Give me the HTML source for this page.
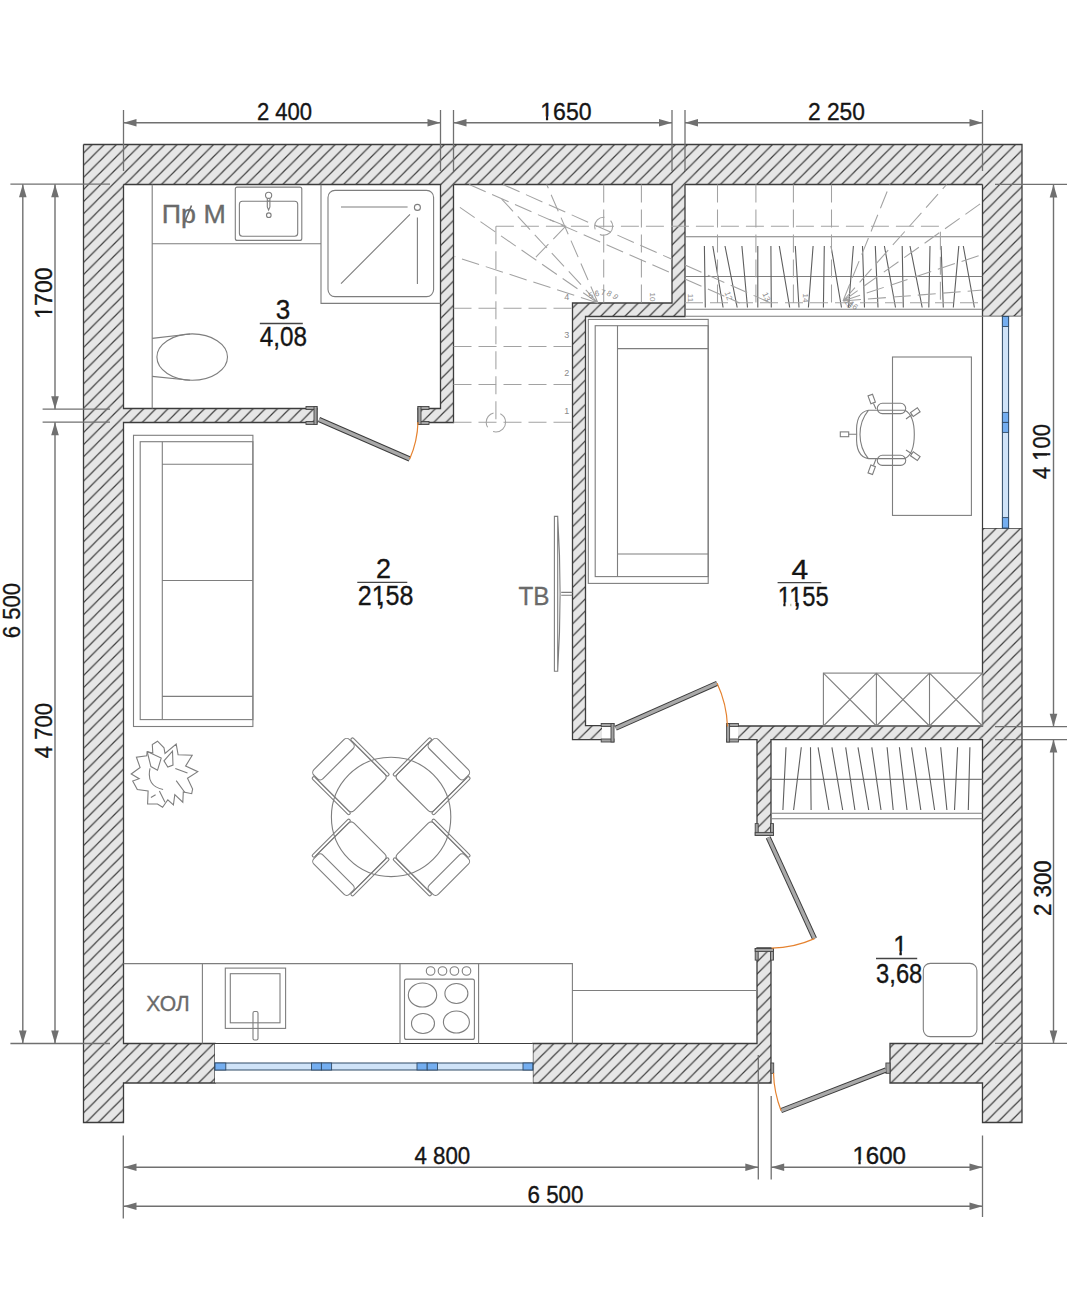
<!DOCTYPE html>
<html><head><meta charset="utf-8"><style>
html,body{margin:0;padding:0;background:#fff;width:1067px;height:1300px;overflow:hidden}
svg{display:block}
text{font-family:"Liberation Sans",sans-serif}
</style></head><body>
<svg width="1067" height="1300" viewBox="0 0 1067 1300">
<defs>
<pattern id="h" patternUnits="userSpaceOnUse" width="12.15" height="12.15">
<rect width="12.15" height="12.15" fill="#e6e6e6"/>
<path d="M-2,7.68L7.68,-2 M3.68,14.15L14.15,3.68" stroke="#3d3d3d" stroke-width="1.25"/>
</pattern>
</defs>
<rect width="1067" height="1300" fill="#fff"/>
<rect x="83.5" y="144.5" width="938.5" height="40.0" fill="url(#h)"/>
<rect x="83.5" y="144.5" width="40.0" height="978.0" fill="url(#h)"/>
<rect x="982.5" y="144.5" width="39.5" height="172.0" fill="url(#h)"/>
<rect x="982.5" y="528" width="39.5" height="594.5" fill="url(#h)"/>
<rect x="110" y="408.5" width="207.0" height="14.0" fill="url(#h)"/>
<rect x="418" y="408.5" width="35.5" height="14.0" fill="url(#h)"/>
<rect x="440.5" y="170" width="13.0" height="252.5" fill="url(#h)"/>
<rect x="672" y="170" width="13.0" height="146.5" fill="url(#h)"/>
<rect x="572.5" y="303" width="112.5" height="13.5" fill="url(#h)"/>
<rect x="572.5" y="303" width="13.0" height="436.6" fill="url(#h)"/>
<rect x="572.5" y="725.6" width="29.5" height="14.0" fill="url(#h)"/>
<rect x="738" y="726" width="257.0" height="13.6" fill="url(#h)"/>
<rect x="757" y="726" width="14.0" height="109.0" fill="url(#h)"/>
<rect x="757" y="948" width="14.0" height="135.0" fill="url(#h)"/>
<rect x="110" y="1043.5" width="105.0" height="39.5" fill="url(#h)"/>
<rect x="532.8" y="1043.5" width="238.2" height="39.5" fill="url(#h)"/>
<rect x="890" y="1043.5" width="105.0" height="39.5" fill="url(#h)"/>
<path d="M83.5,144.5H1022V316.5 M1022,528V1122.5H982.5V1083H890V1043.5H982.5V739.6H771V835H757V739.6H738 M982.5,316.5H1022 M982.5,528H1022 M982.5,184.5V316.5 M982.5,528V726H738 M123.5,184.5H440.5V408.5H418V422.5H453.5V184.5 M453.5,184.5H672V303H572.5V739.6H602 M685,184.5V316.5H585.5V725.6H602 M685,184.5H982.5 M83.5,144.5V1122.5H123.5V1083H215V1043.5H123.5V422.5H317V408.5H123.5V184.5 M532.8,1083H771V948H757V1043.5H532.8V1083 M215,1043.5V1083" fill="none" stroke="#3c3c3c" stroke-width="1.3"/>
<rect x="215" y="1043.5" width="317.79999999999995" height="39.5" fill="#fff"/>
<path d="M215,1043.5H532.8M215,1083H532.8" stroke="#3c3c3c" stroke-width="1.2"/>
<rect x="215" y="1063" width="317.79999999999995" height="7" fill="#cfe3f8" stroke="#2f4a66" stroke-width="1"/>
<rect x="215" y="1063" width="10.800000000000011" height="7" fill="#74aef0" stroke="#2f4a66" stroke-width="0.9"/>
<rect x="311.5" y="1063" width="9.899999999999977" height="7" fill="#74aef0" stroke="#2f4a66" stroke-width="0.9"/>
<rect x="321.4" y="1063" width="10.200000000000045" height="7" fill="#74aef0" stroke="#2f4a66" stroke-width="0.9"/>
<rect x="417" y="1063" width="10.199999999999989" height="7" fill="#74aef0" stroke="#2f4a66" stroke-width="0.9"/>
<rect x="427.2" y="1063" width="10.300000000000011" height="7" fill="#74aef0" stroke="#2f4a66" stroke-width="0.9"/>
<rect x="523" y="1063" width="9.799999999999955" height="7" fill="#74aef0" stroke="#2f4a66" stroke-width="0.9"/>
<rect x="982.5" y="316.5" width="39.5" height="211.5" fill="#fff"/>
<path d="M982.5,316.5V528M1022,316.5V528" stroke="#3c3c3c" stroke-width="1.2"/>
<rect x="1002.4" y="316.5" width="6.2" height="211.5" fill="#cfe3f8" stroke="#2f4a66" stroke-width="1"/>
<rect x="1002.4" y="316.5" width="6.2" height="10.0" fill="#74aef0" stroke="#2f4a66" stroke-width="0.9"/>
<rect x="1002.4" y="412.4" width="6.2" height="10.0" fill="#74aef0" stroke="#2f4a66" stroke-width="0.9"/>
<rect x="1002.4" y="422.4" width="6.2" height="10.0" fill="#74aef0" stroke="#2f4a66" stroke-width="0.9"/>
<rect x="1002.4" y="517.6" width="6.2" height="10.4" fill="#74aef0" stroke="#2f4a66" stroke-width="0.9"/>
<line x1="123.5" y1="122.8" x2="440.5" y2="122.8" stroke="#707070" stroke-width="1.4"/>
<polygon points="123.5,122.8 136.5,119.0 136.5,126.6" fill="#707070"/>
<polygon points="440.5,122.8 427.5,119.0 427.5,126.6" fill="#707070"/>
<line x1="453.5" y1="122.8" x2="672" y2="122.8" stroke="#707070" stroke-width="1.4"/>
<polygon points="453.5,122.8 466.5,119.0 466.5,126.6" fill="#707070"/>
<polygon points="672,122.8 659,119.0 659,126.6" fill="#707070"/>
<line x1="685" y1="122.8" x2="982.5" y2="122.8" stroke="#707070" stroke-width="1.4"/>
<polygon points="685,122.8 698,119.0 698,126.6" fill="#707070"/>
<polygon points="982.5,122.8 969.5,119.0 969.5,126.6" fill="#707070"/>
<line x1="123.5" y1="110" x2="123.5" y2="171" stroke="#707070" stroke-width="1.3" />
<line x1="440.5" y1="110" x2="440.5" y2="171" stroke="#707070" stroke-width="1.3" />
<line x1="453.5" y1="110" x2="453.5" y2="171" stroke="#707070" stroke-width="1.3" />
<line x1="672" y1="110" x2="672" y2="171" stroke="#707070" stroke-width="1.3" />
<line x1="685" y1="110" x2="685" y2="171" stroke="#707070" stroke-width="1.3" />
<line x1="982.5" y1="110" x2="982.5" y2="171" stroke="#707070" stroke-width="1.3" />
<line x1="22.8" y1="184.2" x2="22.8" y2="1043.5" stroke="#707070" stroke-width="1.4"/>
<polygon points="22.8,184.2 19.0,197.2 26.6,197.2" fill="#707070"/>
<polygon points="22.8,1043.5 19.0,1030.5 26.6,1030.5" fill="#707070"/>
<line x1="55" y1="184.2" x2="55" y2="409.2" stroke="#707070" stroke-width="1.4"/>
<polygon points="55,184.2 51.2,197.2 58.8,197.2" fill="#707070"/>
<polygon points="55,409.2 51.2,396.2 58.8,396.2" fill="#707070"/>
<line x1="55" y1="422.2" x2="55" y2="1043.5" stroke="#707070" stroke-width="1.4"/>
<polygon points="55,422.2 51.2,435.2 58.8,435.2" fill="#707070"/>
<polygon points="55,1043.5 51.2,1030.5 58.8,1030.5" fill="#707070"/>
<line x1="10.4" y1="184.2" x2="110" y2="184.2" stroke="#707070" stroke-width="1.3" />
<line x1="42.6" y1="409.2" x2="110" y2="409.2" stroke="#707070" stroke-width="1.3" />
<line x1="42.6" y1="422.2" x2="110" y2="422.2" stroke="#707070" stroke-width="1.3" />
<line x1="10.4" y1="1043.5" x2="110" y2="1043.5" stroke="#707070" stroke-width="1.3" />
<line x1="1053.5" y1="184.4" x2="1053.5" y2="726.7" stroke="#707070" stroke-width="1.4"/>
<polygon points="1053.5,184.4 1049.7,197.4 1057.3,197.4" fill="#707070"/>
<polygon points="1053.5,726.7 1049.7,713.7 1057.3,713.7" fill="#707070"/>
<line x1="1053.5" y1="739.6" x2="1053.5" y2="1043.4" stroke="#707070" stroke-width="1.4"/>
<polygon points="1053.5,739.6 1049.7,752.6 1057.3,752.6" fill="#707070"/>
<polygon points="1053.5,1043.4 1049.7,1030.4 1057.3,1030.4" fill="#707070"/>
<line x1="995" y1="184.4" x2="1067" y2="184.4" stroke="#707070" stroke-width="1.3" />
<line x1="995" y1="726.7" x2="1067" y2="726.7" stroke="#707070" stroke-width="1.3" />
<line x1="995" y1="739.6" x2="1067" y2="739.6" stroke="#707070" stroke-width="1.3" />
<line x1="995" y1="1043.4" x2="1067" y2="1043.4" stroke="#707070" stroke-width="1.3" />
<line x1="123.5" y1="1167.3" x2="758.3" y2="1167.3" stroke="#707070" stroke-width="1.4"/>
<polygon points="123.5,1167.3 136.5,1163.5 136.5,1171.1" fill="#707070"/>
<polygon points="758.3,1167.3 745.3,1163.5 745.3,1171.1" fill="#707070"/>
<line x1="771.2" y1="1167.3" x2="982.5" y2="1167.3" stroke="#707070" stroke-width="1.4"/>
<polygon points="771.2,1167.3 784.2,1163.5 784.2,1171.1" fill="#707070"/>
<polygon points="982.5,1167.3 969.5,1163.5 969.5,1171.1" fill="#707070"/>
<line x1="123.5" y1="1206.3" x2="982.5" y2="1206.3" stroke="#707070" stroke-width="1.4"/>
<polygon points="123.5,1206.3 136.5,1202.5 136.5,1210.1" fill="#707070"/>
<polygon points="982.5,1206.3 969.5,1202.5 969.5,1210.1" fill="#707070"/>
<line x1="123.3" y1="1135.5" x2="123.3" y2="1218.6" stroke="#707070" stroke-width="1.3" />
<line x1="758.3" y1="1055" x2="758.3" y2="1179.5" stroke="#707070" stroke-width="1.3" />
<line x1="771.2" y1="1096" x2="771.2" y2="1179.5" stroke="#707070" stroke-width="1.3" />
<line x1="982.5" y1="1135.5" x2="982.5" y2="1217" stroke="#707070" stroke-width="1.3" />
<g transform="translate(284.5,119.9)"><text x="0" y="0" font-size="23.3" fill="#151515" stroke="#151515" stroke-width="0.35" text-anchor="middle" textLength="55.2" lengthAdjust="spacingAndGlyphs">2 400</text></g>
<g transform="translate(565.9,119.9)"><text x="0" y="0" font-size="23.3" fill="#151515" stroke="#151515" stroke-width="0.35" text-anchor="middle" textLength="51.3" lengthAdjust="spacingAndGlyphs">1650</text><rect x="-24.96" y="-3.50" width="4.98" height="4.66" fill="#fff"/><rect x="-17.76" y="-3.50" width="4.80" height="4.66" fill="#fff"/></g>
<g transform="translate(836.4,119.8)"><text x="0" y="0" font-size="23.3" fill="#151515" stroke="#151515" stroke-width="0.35" text-anchor="middle" textLength="57" lengthAdjust="spacingAndGlyphs">2 250</text></g>
<g transform="translate(442.3,1164)"><text x="0" y="0" font-size="23.3" fill="#151515" stroke="#151515" stroke-width="0.35" text-anchor="middle" textLength="55.8" lengthAdjust="spacingAndGlyphs">4 800</text></g>
<g transform="translate(879.2,1163.8)"><text x="0" y="0" font-size="23.3" fill="#151515" stroke="#151515" stroke-width="0.35" text-anchor="middle" textLength="53.5" lengthAdjust="spacingAndGlyphs">1600</text><rect x="-26.03" y="-3.50" width="5.20" height="4.66" fill="#fff"/><rect x="-18.52" y="-3.50" width="5.00" height="4.66" fill="#fff"/></g>
<g transform="translate(555.5,1202.8)"><text x="0" y="0" font-size="23.3" fill="#151515" stroke="#151515" stroke-width="0.35" text-anchor="middle" textLength="55.9" lengthAdjust="spacingAndGlyphs">6 500</text></g>
<g transform="translate(51.9,293.1) rotate(-90)"><text x="0" y="0" font-size="23.3" fill="#151515" stroke="#151515" stroke-width="0.35" text-anchor="middle" textLength="51.3" lengthAdjust="spacingAndGlyphs">1700</text><rect x="-24.96" y="-3.50" width="4.98" height="4.66" fill="#fff"/><rect x="-17.76" y="-3.50" width="4.80" height="4.66" fill="#fff"/></g>
<g transform="translate(19.9,610.6) rotate(-90)"><text x="0" y="0" font-size="23.3" fill="#151515" stroke="#151515" stroke-width="0.35" text-anchor="middle" textLength="55.2" lengthAdjust="spacingAndGlyphs">6 500</text></g>
<g transform="translate(52,730.6) rotate(-90)"><text x="0" y="0" font-size="23.3" fill="#151515" stroke="#151515" stroke-width="0.35" text-anchor="middle" textLength="55.2" lengthAdjust="spacingAndGlyphs">4 700</text></g>
<g transform="translate(1050.4,451.5) rotate(-90)"><text x="0" y="0" font-size="23.3" fill="#151515" stroke="#151515" stroke-width="0.35" text-anchor="middle" textLength="55" lengthAdjust="spacingAndGlyphs">4 100</text><rect x="-8.51" y="-3.50" width="4.75" height="4.66" fill="#fff"/><rect x="-1.65" y="-3.50" width="4.57" height="4.66" fill="#fff"/></g>
<g transform="translate(1050.7,888.2) rotate(-90)"><text x="0" y="0" font-size="23.3" fill="#151515" stroke="#151515" stroke-width="0.35" text-anchor="middle" textLength="55.7" lengthAdjust="spacingAndGlyphs">2 300</text></g>
<path d="M152.2,184.5V408.5 M152.2,243.7H321 M321,184.5V303.4H440.5" fill="none" stroke="#7e7e7e" stroke-width="1.1"/>
<rect x="328" y="190.4" width="105.6" height="106.2" rx="7" fill="none" stroke="#7e7e7e" stroke-width="1.1"/>
<path d="M341,207H407.6 M341,283.6L410,214.4 M417.4,217.6V284" fill="none" stroke="#7e7e7e" stroke-width="1.1"/>
<circle cx="417.4" cy="207.4" r="3" fill="none" stroke="#7e7e7e" stroke-width="1.1"/>
<rect x="235.3" y="187.1" width="66.5" height="53.3" rx="2" fill="none" stroke="#7e7e7e" stroke-width="1.1"/>
<rect x="239.4" y="201.2" width="58.3" height="35.0" rx="3" fill="none" stroke="#7e7e7e" stroke-width="1.1"/>
<circle cx="268.6" cy="195.3" r="3.1" fill="none" stroke="#7e7e7e" stroke-width="1.1"/>
<path d="M267.3,198.3 V207 L268.6,210 L269.9,207 V198.3 M266.8,201H270.4" fill="none" stroke="#7e7e7e" stroke-width="1.1"/>
<circle cx="268.8" cy="215.2" r="2.3" fill="none" stroke="#7e7e7e" stroke-width="1.1"/>
<ellipse cx="192.2" cy="357.1" rx="35.3" ry="23.2" fill="none" stroke="#7e7e7e" stroke-width="1.1"/>
<path d="M152.2,338.4 L190,334 M152.2,376.4 L190,380.2" fill="none" stroke="#7e7e7e" stroke-width="1.1"/>
<g transform="translate(193.8,222.7)"><text x="0" y="0" font-size="26" fill="#6a6a6a" stroke="#6a6a6a" stroke-width="0.35" text-anchor="middle" textLength="64" lengthAdjust="spacingAndGlyphs">Пр М</text></g>
<line x1="183.3" y1="225.5" x2="191.5" y2="205.5" stroke="#6a6a6a" stroke-width="1.6" />
<rect x="133.5" y="435.3" width="119.4" height="291.2" rx="0" fill="none" stroke="#7e7e7e" stroke-width="1.1"/>
<rect x="140.2" y="441.7" width="112.7" height="277.9" rx="0" fill="none" stroke="#7e7e7e" stroke-width="1.1"/>
<path d="M162.3,441.7V719.6 M162.3,464.3H252.9 M162.3,696.4H252.9 M162.3,580.5H252.9" fill="none" stroke="#7e7e7e" stroke-width="1.1"/>
<rect x="588.3" y="319.4" width="119.9" height="264.0" rx="0" fill="none" stroke="#7e7e7e" stroke-width="1.1"/>
<rect x="595.2" y="325.7" width="113.0" height="250.9" rx="0" fill="none" stroke="#7e7e7e" stroke-width="1.1"/>
<path d="M617.5,325.7V576.6 M617.5,348.6H708.2 M617.5,554H708.2" fill="none" stroke="#7e7e7e" stroke-width="1.1"/>
<rect x="892.5" y="357" width="78.9" height="158.4" rx="0" fill="none" stroke="#7e7e7e" stroke-width="1.1"/>
<rect x="823.4" y="673.1" width="159.1" height="52.9" rx="0" fill="none" stroke="#7e7e7e" stroke-width="1.1"/>
<path d="M823.4,673.1L876.4,726 M876.4,673.1L823.4,726 M876.4,673.1V726" fill="none" stroke="#7e7e7e" stroke-width="1.1"/>
<path d="M876.4,673.1L929.5,726 M929.5,673.1L876.4,726 M929.5,673.1V726" fill="none" stroke="#7e7e7e" stroke-width="1.1"/>
<path d="M929.5,673.1L982.5,726 M982.5,673.1L929.5,726" fill="none" stroke="#7e7e7e" stroke-width="1.1"/>
<rect x="923.3" y="963.4" width="53.6" height="73.2" rx="7" fill="none" stroke="#7e7e7e" stroke-width="1.1"/>
<path d="M123.5,963.6H572.4V1043.5 M202.4,963.6V1043.5 M400,963.6V1043.5 M478.6,963.6V1043.5 M572.4,990.5H757" fill="none" stroke="#7e7e7e" stroke-width="1.1"/>
<rect x="225.3" y="968.1" width="60.3" height="60.3" rx="0" fill="none" stroke="#7e7e7e" stroke-width="1.1"/>
<rect x="230.3" y="973.7" width="49.7" height="49.1" rx="0" fill="none" stroke="#7e7e7e" stroke-width="1.1"/>
<rect x="253" y="1011.5" width="5.0" height="28.5" rx="1.5" fill="none" stroke="#7e7e7e" stroke-width="1.1"/>
<g transform="translate(168,1010.9)"><text x="0" y="0" font-size="22.5" fill="#6a6a6a" stroke="#6a6a6a" stroke-width="0.35" text-anchor="middle" textLength="43.5" lengthAdjust="spacingAndGlyphs">ХОЛ</text></g>
<rect x="404.5" y="979.1" width="69.9" height="60.3" rx="2" fill="none" stroke="#7e7e7e" stroke-width="1.1"/>
<circle cx="430.6" cy="971" r="4.3" fill="none" stroke="#7e7e7e" stroke-width="1.1"/>
<circle cx="442.5" cy="971" r="4.3" fill="none" stroke="#7e7e7e" stroke-width="1.1"/>
<circle cx="454.4" cy="971" r="4.3" fill="none" stroke="#7e7e7e" stroke-width="1.1"/>
<circle cx="466.5" cy="971" r="4.3" fill="none" stroke="#7e7e7e" stroke-width="1.1"/>
<ellipse cx="422.5" cy="995" rx="14.2" ry="12" fill="none" stroke="#7e7e7e" stroke-width="1.1"/>
<ellipse cx="456.4" cy="993.5" rx="11.5" ry="10" fill="none" stroke="#7e7e7e" stroke-width="1.1"/>
<ellipse cx="423" cy="1023.5" rx="11.5" ry="10" fill="none" stroke="#7e7e7e" stroke-width="1.1"/>
<ellipse cx="456.4" cy="1022" rx="13" ry="11" fill="none" stroke="#7e7e7e" stroke-width="1.1"/>
<path d="M554.4,516.4H557.7V671.3H554.4Z M557.7,516.4 Q562.5,594 557.7,671.3 M561.2,592.4H572.4 M561.2,595.3H572.4" fill="none" stroke="#7e7e7e" stroke-width="1.1"/>
<g transform="translate(534,605)"><text x="0" y="0" font-size="26" fill="#6a6a6a" stroke="#6a6a6a" stroke-width="0.35" text-anchor="middle" textLength="31" lengthAdjust="spacingAndGlyphs">ТВ</text></g>
<circle cx="391.1" cy="816.9" r="59.7" fill="none" stroke="#7e7e7e" stroke-width="1.1"/>
<g transform="translate(349.2,774.9) rotate(-45)"><path d="M-25.8,-22 V24.4 Q-25.8,28.7 -21.5,28.7 H21.5 Q25.8,28.7 25.8,24.4 V-22" fill="none" stroke="#7e7e7e" stroke-width="1.1"/><rect x="-25.2" y="-28.7" width="50.4" height="12.9" rx="4" fill="none" stroke="#7e7e7e" stroke-width="1.1"/><rect x="-28.9" y="-24.2" width="3.1" height="52.4" rx="1.5" fill="none" stroke="#7e7e7e" stroke-width="1.1"/><rect x="25.8" y="-24.2" width="3.1" height="52.4" rx="1.5" fill="none" stroke="#7e7e7e" stroke-width="1.1"/></g>
<g transform="translate(433.1,774.9) rotate(45)"><path d="M-25.8,-22 V24.4 Q-25.8,28.7 -21.5,28.7 H21.5 Q25.8,28.7 25.8,24.4 V-22" fill="none" stroke="#7e7e7e" stroke-width="1.1"/><rect x="-25.2" y="-28.7" width="50.4" height="12.9" rx="4" fill="none" stroke="#7e7e7e" stroke-width="1.1"/><rect x="-28.9" y="-24.2" width="3.1" height="52.4" rx="1.5" fill="none" stroke="#7e7e7e" stroke-width="1.1"/><rect x="25.8" y="-24.2" width="3.1" height="52.4" rx="1.5" fill="none" stroke="#7e7e7e" stroke-width="1.1"/></g>
<g transform="translate(433.1,858.9) rotate(135)"><path d="M-25.8,-22 V24.4 Q-25.8,28.7 -21.5,28.7 H21.5 Q25.8,28.7 25.8,24.4 V-22" fill="none" stroke="#7e7e7e" stroke-width="1.1"/><rect x="-25.2" y="-28.7" width="50.4" height="12.9" rx="4" fill="none" stroke="#7e7e7e" stroke-width="1.1"/><rect x="-28.9" y="-24.2" width="3.1" height="52.4" rx="1.5" fill="none" stroke="#7e7e7e" stroke-width="1.1"/><rect x="25.8" y="-24.2" width="3.1" height="52.4" rx="1.5" fill="none" stroke="#7e7e7e" stroke-width="1.1"/></g>
<g transform="translate(349.2,858.9) rotate(-135)"><path d="M-25.8,-22 V24.4 Q-25.8,28.7 -21.5,28.7 H21.5 Q25.8,28.7 25.8,24.4 V-22" fill="none" stroke="#7e7e7e" stroke-width="1.1"/><rect x="-25.2" y="-28.7" width="50.4" height="12.9" rx="4" fill="none" stroke="#7e7e7e" stroke-width="1.1"/><rect x="-28.9" y="-24.2" width="3.1" height="52.4" rx="1.5" fill="none" stroke="#7e7e7e" stroke-width="1.1"/><rect x="25.8" y="-24.2" width="3.1" height="52.4" rx="1.5" fill="none" stroke="#7e7e7e" stroke-width="1.1"/></g>
<polygon points="131.2,774.0 140.1,767.5 136.4,757.2 146.7,755.8 147.2,751.6 152.8,753.0 152.3,744.5 157.5,741.2 164.0,747.8 165.0,753.4 176.2,744.1 178.1,754.8 192.2,755.3 185.6,766.1 197.8,771.7 187.5,778.3 192.6,789.0 191.7,793.7 183.3,791.9 182.8,802.2 174.8,794.7 173.4,805.0 167.8,799.8 162.6,807.3 157.5,804.0 147.6,804.0 148.1,790.9 137.3,789.5 132.7,781.1 139.2,778.7" fill="none" stroke="#7e7e7e" stroke-width="1.1"/>
<path d="M150.0,768.4 Q146.2,786.2 163.1,789.5 M147.2,751.6 L150.9,766.6 L157.5,770.3 L161.2,758.1 L147.2,751.6 M164.0,760.9 L167.8,767.0 L173.0,765.1 L172.5,751.1 Z M175.3,768.4 L187.5,773.1 M176.2,780.6 L184.7,792.3 M159.4,790.9 L165.0,802.2 M150.9,797.5 L155.6,794.7" fill="none" stroke="#7e7e7e" stroke-width="1.1"/>
<path d="M868.4,410.3 C858,412 856,424 856.7,434.5 C856,445 858,457 868.4,458.6 M868.4,410.3 C862,418 860,428 860,434.5 C860,441 862,451 868.4,458.6 M868.4,410.3 L905,410.3 C912,414 914.3,424 914.3,434.5 C914.3,445 912,455 905,458.6 L868.4,458.6" fill="none" stroke="#7e7e7e" stroke-width="1.1"/>
<rect x="877.3" y="403.3" width="28.4" height="10.3" rx="5" fill="none" stroke="#7e7e7e" stroke-width="1.1"/>
<rect x="877.3" y="455.3" width="28.4" height="10.1" rx="5" fill="none" stroke="#7e7e7e" stroke-width="1.1"/>
<g transform="translate(844.5,434.3) rotate(0)"><rect x="-4.2" y="-2.4" width="8.4" height="4.8" fill="none" stroke="#7e7e7e" stroke-width="1.1"/></g>
<g transform="translate(871.7,399) rotate(70)"><rect x="-4.2" y="-2.4" width="8.4" height="4.8" fill="none" stroke="#7e7e7e" stroke-width="1.1"/></g>
<g transform="translate(915.3,412.2) rotate(-35)"><rect x="-4.2" y="-2.4" width="8.4" height="4.8" fill="none" stroke="#7e7e7e" stroke-width="1.1"/></g>
<g transform="translate(915.3,456.2) rotate(35)"><rect x="-4.2" y="-2.4" width="8.4" height="4.8" fill="none" stroke="#7e7e7e" stroke-width="1.1"/></g>
<g transform="translate(871.7,469.8) rotate(-70)"><rect x="-4.2" y="-2.4" width="8.4" height="4.8" fill="none" stroke="#7e7e7e" stroke-width="1.1"/></g>
<path d="M848.7,434.3H856.7 M873.5,403.5L876,409 M912,414.5L906,419 M912,454L906,450 M873.5,465.5L876,459" fill="none" stroke="#7e7e7e" stroke-width="1.1"/>
<path d="M685,236.8H982.5 M685,276.5H982.5 M685,309.3H982.5 M685,316.3H982.5" fill="none" stroke="#7e7e7e" stroke-width="1.1"/>
<path d="M704.4,246 L705.3,307.5 M712.8,246 L723.1,307.5 M725,246 L737.2,307.5 M741.9,246 L747.5,307.5 M757.8,246 L757.8,307.5 M770.9,246 L771.3,307.5 M779.3,246 L789.7,307.5 M795.3,246 L799,307.5 M813.1,246 L808.4,307.5 M824.3,246 L823.4,307.5 M831,246 L841.5,307.5 M853.4,246 L848.5,307.5 M862.5,246 L864.5,307.5 M875.3,246 L878,307.5 M884.4,246 L895.5,307.5 M902.2,246 L903.3,307.5 M910,246 L922.2,307.5 M930,246 L928.8,307.5 M941.1,246 L943.3,307.5 M958.8,246 L953.3,307.5 M963.3,246 L974.4,307.5" fill="none" stroke="#5e5e5e" stroke-width="1.1"/>
<path d="M771,779.4H982.5 M771,813.2H982.5 M771,818.7H982.5" fill="none" stroke="#7e7e7e" stroke-width="1.1"/>
<path d="M786,747.3 L782.9,810 M801.3,747.3 L793.6,810 M810.5,747.3 L811.1,810 M818.1,747.3 L828.9,810 M831.9,747.3 L842.7,810 M845.7,747.3 L854.9,810 M858,747.3 L868.7,810 M871.8,747.3 L881,810 M887.1,747.3 L893.2,810 M899.4,747.3 L907,810 M911.6,747.3 L920.8,810 M925.4,747.3 L934.6,810 M940.7,747.3 L946.9,810 M957.6,747.3 L954.5,810 M969.9,747.3 L968.3,810" fill="none" stroke="#5e5e5e" stroke-width="1.1"/>
<path d="M495.9,226.3V422.3 M495.9,226.3H940.4V303 M603.7,184.5V303 M641.4,184.5V303 M453.5,308.3H572.5 M453.5,346.5H572.5 M453.5,384.5H572.5 M453.5,422.3H572.5 M717.5,184.5V303 M755.9,184.5V303 M793.4,184.5V303 M831.5,184.5V303 M685,302.8H982.5" fill="none" stroke="#a2a2a2" stroke-width="1.05" stroke-dasharray="18,7"/>
<circle cx="603.7" cy="226.3" r="9" fill="none" stroke="#a2a2a2" stroke-width="1.05" stroke-dasharray="18,7"/>
<circle cx="495.9" cy="422.3" r="9.7" fill="none" stroke="#a2a2a2" stroke-width="1.05" stroke-dasharray="18,7"/>
<path d="M598,303L454.5,256.5 M598,303L454.5,203.6 M598,303L501.7,199.1 M598,303L546.7,184.5" fill="none" stroke="#a2a2a2" stroke-width="1.05" stroke-dasharray="18,7"/>
<path d="M469.2,184.5L672,273.4 M503.1,184.5L672,259.3 M685,279L739.7,303 M685,265L770.8,303" fill="none" stroke="#a2a2a2" stroke-width="1.05" stroke-dasharray="18,7"/>
<path d="M549.5,219.4L565.8,226.1L561.3,231.7 M565.8,226.1L534.3,258.7" fill="none" stroke="#a2a2a2" stroke-width="1.05" stroke-dasharray="18,7"/>
<path d="M843,301L890,184.5 M843,301L946.6,184.5 M843,301L982.5,202.2 M843,301L982.5,254.4 M843,301L982.5,290" fill="none" stroke="#a2a2a2" stroke-width="1.05" stroke-dasharray="18,7"/>
<text transform="translate(591,296) rotate(-20)" font-size="8" fill="#8c8c8c" text-anchor="middle" dominant-baseline="middle">5</text>
<text transform="translate(597,294) rotate(-10)" font-size="8" fill="#8c8c8c" text-anchor="middle" dominant-baseline="middle">6</text>
<text transform="translate(603,293) rotate(10)" font-size="8" fill="#8c8c8c" text-anchor="middle" dominant-baseline="middle">7</text>
<text transform="translate(609,294) rotate(30)" font-size="8" fill="#8c8c8c" text-anchor="middle" dominant-baseline="middle">8</text>
<text transform="translate(615,297) rotate(50)" font-size="8" fill="#8c8c8c" text-anchor="middle" dominant-baseline="middle">9</text>
<text transform="translate(652,297) rotate(90)" font-size="8" fill="#8c8c8c" text-anchor="middle" dominant-baseline="middle">10</text>
<text transform="translate(690,298) rotate(90)" font-size="8" fill="#8c8c8c" text-anchor="middle" dominant-baseline="middle">11</text>
<text transform="translate(728,296) rotate(70)" font-size="8" fill="#8c8c8c" text-anchor="middle" dominant-baseline="middle">12</text>
<text transform="translate(766,297) rotate(65)" font-size="8" fill="#8c8c8c" text-anchor="middle" dominant-baseline="middle">13</text>
<text transform="translate(805,298) rotate(90)" font-size="8" fill="#8c8c8c" text-anchor="middle" dominant-baseline="middle">14</text>
<text transform="translate(848,304) rotate(60)" font-size="8" fill="#8c8c8c" text-anchor="middle" dominant-baseline="middle">15</text>
<text transform="translate(853,306) rotate(40)" font-size="8" fill="#8c8c8c" text-anchor="middle" dominant-baseline="middle">16</text>
<g transform="translate(566.7,413.5)"><text x="0" y="0" font-size="9" fill="#8a8a8a" text-anchor="middle">1</text></g>
<g transform="translate(566.7,376.0)"><text x="0" y="0" font-size="9" fill="#8a8a8a" text-anchor="middle">2</text></g>
<g transform="translate(566.7,338.1)"><text x="0" y="0" font-size="9" fill="#8a8a8a" text-anchor="middle">3</text></g>
<g transform="translate(566.7,300.1)"><text x="0" y="0" font-size="9" fill="#8a8a8a" text-anchor="middle">4</text></g>
<rect x="306" y="406.5" width="11.0" height="3" fill="#a3a3a3" stroke="#454545" stroke-width="0.9"/>
<rect x="306" y="421.5" width="11.0" height="3" fill="#a3a3a3" stroke="#454545" stroke-width="0.9"/>
<rect x="314" y="406.5" width="3" height="18" fill="#a3a3a3" stroke="#454545" stroke-width="0.9"/>
<rect x="418" y="406.5" width="11.0" height="3" fill="#a3a3a3" stroke="#454545" stroke-width="0.9"/>
<rect x="418" y="421.5" width="11.0" height="3" fill="#a3a3a3" stroke="#454545" stroke-width="0.9"/>
<rect x="418" y="406.5" width="3" height="18" fill="#a3a3a3" stroke="#454545" stroke-width="0.9"/>
<line x1="319" y1="419.5" x2="409.7" y2="459" stroke="#3a3a3a" stroke-width="5.2"/>
<line x1="319" y1="419.5" x2="409.7" y2="459" stroke="#a9a9a9" stroke-width="3.4"/>
<path d="M409.7,459 A98.9,98.9 0 0,0 418,422" fill="none" stroke="#e5822f" stroke-width="1.2"/>
<rect x="601.2" y="723.5" width="12.8" height="3" fill="#a3a3a3" stroke="#454545" stroke-width="0.9"/>
<rect x="601.2" y="739" width="12.8" height="3" fill="#a3a3a3" stroke="#454545" stroke-width="0.9"/>
<rect x="611" y="723.5" width="3" height="18.5" fill="#a3a3a3" stroke="#454545" stroke-width="0.9"/>
<rect x="726.6" y="723.5" width="11.8" height="3" fill="#a3a3a3" stroke="#454545" stroke-width="0.9"/>
<rect x="726.6" y="739" width="11.8" height="3" fill="#a3a3a3" stroke="#454545" stroke-width="0.9"/>
<rect x="726.6" y="723.5" width="3" height="18.5" fill="#a3a3a3" stroke="#454545" stroke-width="0.9"/>
<line x1="615.7" y1="728.2" x2="717.1" y2="683.3" stroke="#3a3a3a" stroke-width="5.2"/>
<line x1="615.7" y1="728.2" x2="717.1" y2="683.3" stroke="#a9a9a9" stroke-width="3.4"/>
<path d="M717.1,683.3 A110.9,110.9 0 0,1 727.5,726.6" fill="none" stroke="#e5822f" stroke-width="1.2"/>
<rect x="755.2" y="823.6" width="3" height="11.8" fill="#a3a3a3" stroke="#454545" stroke-width="0.9"/>
<rect x="770.5" y="823.6" width="3" height="11.8" fill="#a3a3a3" stroke="#454545" stroke-width="0.9"/>
<rect x="755.2" y="832.4" width="18.3" height="3" fill="#a3a3a3" stroke="#454545" stroke-width="0.9"/>
<rect x="755.2" y="948.5" width="3" height="11.6" fill="#a3a3a3" stroke="#454545" stroke-width="0.9"/>
<rect x="770.5" y="948.5" width="3" height="11.6" fill="#a3a3a3" stroke="#454545" stroke-width="0.9"/>
<rect x="755.2" y="948.5" width="18.3" height="3" fill="#a3a3a3" stroke="#454545" stroke-width="0.9"/>
<line x1="768.2" y1="837.4" x2="814.5" y2="938.6" stroke="#3a3a3a" stroke-width="5.2"/>
<line x1="768.2" y1="837.4" x2="814.5" y2="938.6" stroke="#a9a9a9" stroke-width="3.4"/>
<path d="M814.5,938.6 A111.3,111.3 0 0,1 771.7,948.2" fill="none" stroke="#e5822f" stroke-width="1.2"/>
<rect x="885.9" y="1063" width="4.1" height="10.3" fill="#a3a3a3" stroke="#454545" stroke-width="0.9"/>
<rect x="771" y="1063" width="2.7" height="10.3" fill="#a3a3a3" stroke="#454545" stroke-width="0.9"/>
<line x1="885.9" y1="1070" x2="781.1" y2="1110.7" stroke="#3a3a3a" stroke-width="5.2"/>
<line x1="885.9" y1="1070" x2="781.1" y2="1110.7" stroke="#a9a9a9" stroke-width="3.4"/>
<path d="M781.1,1110.7 A112.4,112.4 0 0,1 773.5,1073" fill="none" stroke="#e5822f" stroke-width="1.2"/>
<g transform="translate(283.1,318.5)"><text x="0" y="0" font-size="27.6" fill="#151515" stroke="#151515" stroke-width="0.35" text-anchor="middle" textLength="14.5" lengthAdjust="spacingAndGlyphs">3</text></g>
<line x1="259.8" y1="323.5" x2="302.8" y2="323.5" stroke="#444" stroke-width="1.3" />
<g transform="translate(283.3,346.1)"><text x="0" y="0" font-size="27.6" fill="#151515" stroke="#151515" stroke-width="0.35" text-anchor="middle" textLength="47.2" lengthAdjust="spacingAndGlyphs">4,08</text></g>
<g transform="translate(383.5,577.5)"><text x="0" y="0" font-size="27.6" fill="#151515" stroke="#151515" stroke-width="0.35" text-anchor="middle" textLength="15" lengthAdjust="spacingAndGlyphs">2</text></g>
<line x1="357.3" y1="582.4" x2="407.3" y2="582.4" stroke="#444" stroke-width="1.3" />
<g transform="translate(385.6,605.1)"><text x="0" y="0" font-size="27.6" fill="#151515" stroke="#151515" stroke-width="0.35" text-anchor="middle" textLength="55.8" lengthAdjust="spacingAndGlyphs">2158</text><rect x="-13.20" y="-4.14" width="5.42" height="5.52" fill="#fff"/><rect x="-5.37" y="-4.14" width="5.22" height="5.52" fill="#fff"/></g>
<g transform="translate(381,605.1)"><text x="0" y="0" font-size="27.6" fill="#151515" stroke="#151515" stroke-width="0.35" text-anchor="middle">,</text></g>
<g transform="translate(799.9,579.3)"><text x="0" y="0" font-size="27.6" fill="#151515" stroke="#151515" stroke-width="0.35" text-anchor="middle" textLength="16.7" lengthAdjust="spacingAndGlyphs">4</text></g>
<line x1="777.6" y1="582.7" x2="821.3" y2="582.7" stroke="#444" stroke-width="1.3" />
<g transform="translate(803.2,606.4)"><text x="0" y="0" font-size="27.6" fill="#151515" stroke="#151515" stroke-width="0.35" text-anchor="middle" textLength="51" lengthAdjust="spacingAndGlyphs">1155</text><rect x="-24.81" y="-4.14" width="4.95" height="5.52" fill="#fff"/><rect x="-17.66" y="-4.14" width="4.77" height="5.52" fill="#fff"/><rect x="-12.06" y="-4.14" width="4.95" height="5.52" fill="#fff"/><rect x="-4.91" y="-4.14" width="4.77" height="5.52" fill="#fff"/></g>
<g transform="translate(797,606.4)"><text x="0" y="0" font-size="27.6" fill="#151515" stroke="#151515" stroke-width="0.35" text-anchor="middle">,</text></g>
<g transform="translate(900.2,955.2)"><text x="0" y="0" font-size="27.6" fill="#151515" stroke="#151515" stroke-width="0.35" text-anchor="middle" textLength="14" lengthAdjust="spacingAndGlyphs">1</text><rect x="-6.24" y="-4.14" width="5.44" height="5.52" fill="#fff"/><rect x="1.61" y="-4.14" width="5.24" height="5.52" fill="#fff"/></g>
<line x1="876" y1="958.5" x2="917.2" y2="958.5" stroke="#444" stroke-width="1.3" />
<g transform="translate(899.2,982.7)"><text x="0" y="0" font-size="27.6" fill="#151515" stroke="#151515" stroke-width="0.35" text-anchor="middle" textLength="46.2" lengthAdjust="spacingAndGlyphs">3,68</text></g>
</svg>
</body></html>
